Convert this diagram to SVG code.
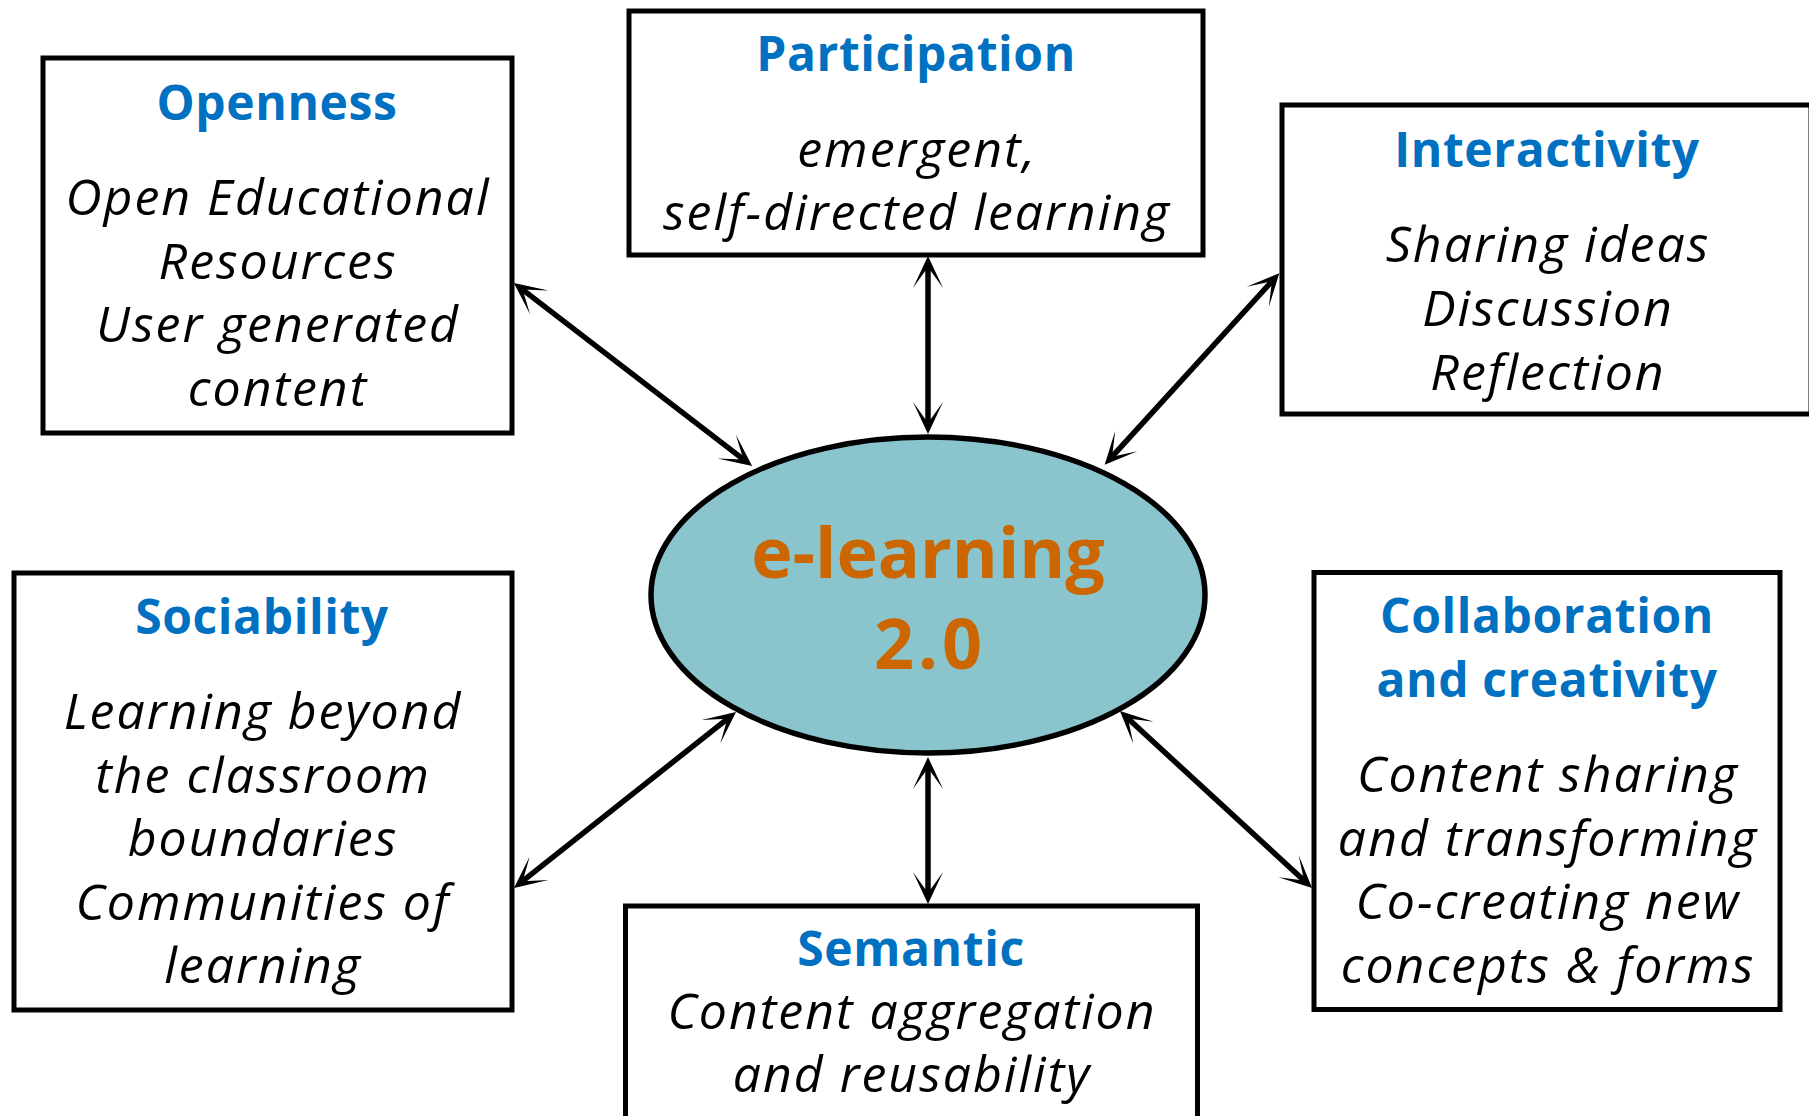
<svg xmlns="http://www.w3.org/2000/svg" width="1809" height="1116" viewBox="0 0 1809 1116">
<style>
.box{fill:#fff;stroke:#000;stroke-width:5}
.title{font-family:"Open Sans","DejaVu Sans",sans-serif;font-weight:bold;font-size:48px;letter-spacing:0.6px;fill:#0070C0;text-anchor:middle}
.body{font-family:"Open Sans","DejaVu Sans",sans-serif;font-style:italic;font-size:50px;letter-spacing:2px;fill:#000;text-anchor:middle}
.center{font-family:"Open Sans","DejaVu Sans",sans-serif;font-weight:bold;font-size:70px;fill:#CC6600;text-anchor:middle}
.conn{stroke:#000;stroke-width:5.5;fill:none;marker-start:url(#ah);marker-end:url(#ah)}
</style>
<defs>
<marker id="ah" markerUnits="userSpaceOnUse" viewBox="0 -16 33 32" refX="21" refY="0" markerWidth="33" markerHeight="32" orient="auto-start-reverse">
<path d="M32,0 L0,-15 L21,0 L0,15 Z" fill="#000"/>
</marker>
</defs>
<rect width="1809" height="1116" fill="#fff"/>
<g id="openness">
<rect class="box" x="43" y="58" width="469" height="375"/>
<text class="title" x="277" y="120">Openness</text>
<text class="body" x="278" y="215">Open Educational</text>
<text class="body" x="278" y="279">Resources</text>
<text class="body" x="278" y="342">User generated</text>
<text class="body" x="278" y="406">content</text>
</g>
<g id="participation">
<rect class="box" x="629" y="11" width="574" height="244"/>
<text class="title" x="916" y="71">Participation</text>
<text class="body" x="917" y="167">emergent,</text>
<text class="body" x="917" y="230">self-directed learning</text>
</g>
<g id="interactivity">
<rect class="box" x="1282" y="105" width="529" height="309"/>
<text class="title" x="1547" y="167">Interactivity</text>
<text class="body" x="1548" y="262">Sharing ideas</text>
<text class="body" x="1548" y="326">Discussion</text>
<text class="body" x="1548" y="390">Reflection</text>
</g>
<g id="sociability">
<rect class="box" x="14" y="573" width="498" height="437"/>
<text class="title" x="262" y="634">Sociability</text>
<text class="body" x="263" y="729">Learning beyond</text>
<text class="body" x="263" y="793">the classroom</text>
<text class="body" x="263" y="856">boundaries</text>
<text class="body" x="263" y="920">Communities of</text>
<text class="body" x="263" y="983">learning</text>
</g>
<g id="semantic">
<rect class="box" x="625.5" y="906" width="572" height="215"/>
<text class="title" x="911" y="966">Semantic</text>
<text class="body" x="912" y="1029">Content aggregation</text>
<text class="body" x="912" y="1092">and reusability</text>
</g>
<g id="collaboration">
<rect class="box" x="1314" y="572.5" width="466" height="437"/>
<text class="title" x="1547" y="633">Collaboration</text>
<text class="title" x="1547" y="697">and creativity</text>
<text class="body" x="1548" y="792">Content sharing</text>
<text class="body" x="1548" y="856">and transforming</text>
<text class="body" x="1548" y="919">Co-creating new</text>
<text class="body" x="1548" y="983">concepts &amp; forms</text>
</g>
<g id="elearning">
<ellipse cx="928" cy="595" rx="277" ry="158" fill="#8AC5CD" stroke="#000" stroke-width="5.5"/>
<text class="center" x="928" y="578">e-learning</text>
<text class="center" x="930" y="669" style="letter-spacing:4px">2.0</text>
</g>
<g id="connectors">
<line class="conn" x1="522.6" y1="289.6" x2="743.4" y2="459.4"/>
<line class="conn" x1="928" y1="267" x2="928" y2="423"/>
<line class="conn" x1="1271.9" y1="281.3" x2="1112.1" y2="456.7"/>
<line class="conn" x1="522.6" y1="881.2" x2="727.4" y2="718.8"/>
<line class="conn" x1="928" y1="768" x2="928" y2="893"/>
<line class="conn" x1="1128" y1="718.5" x2="1304" y2="880.5"/>
</g>
</svg>
